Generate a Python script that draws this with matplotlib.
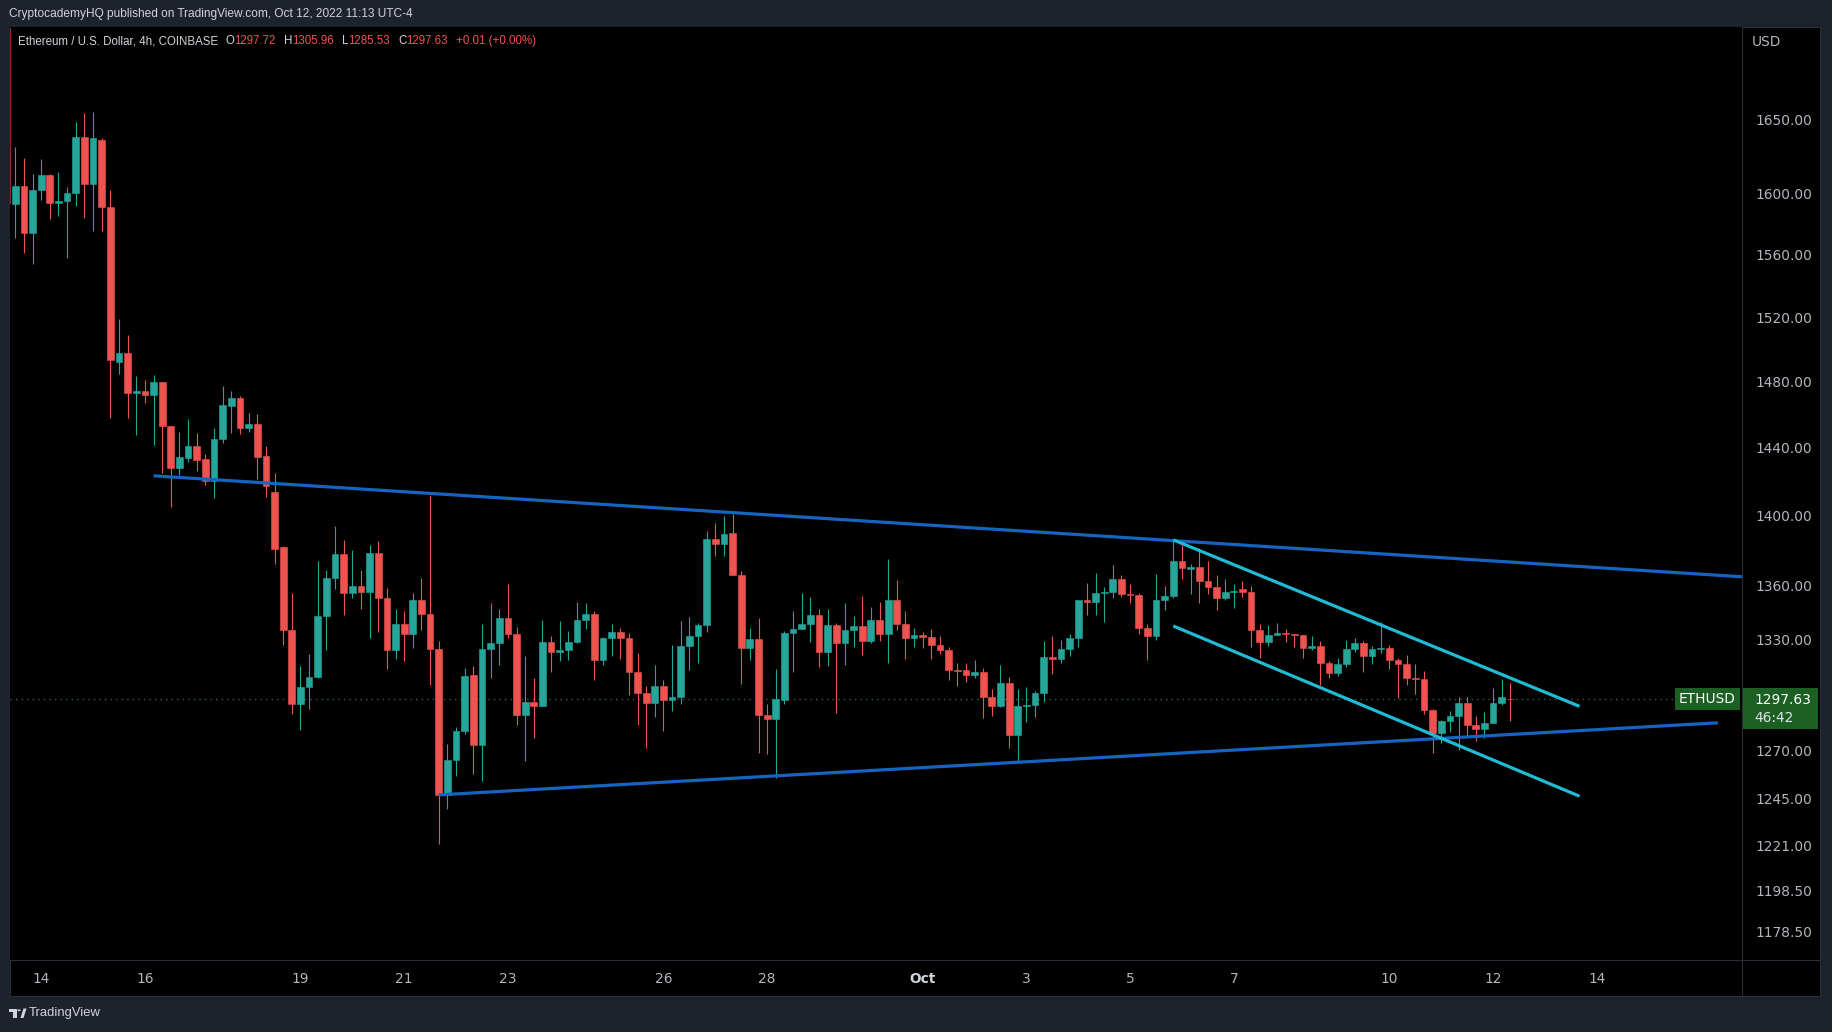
import matplotlib
matplotlib.use("Agg")
import matplotlib.pyplot as plt
import matplotlib.transforms as mtransforms
from matplotlib.patches import Rectangle, Polygon, Circle
from matplotlib.lines import Line2D
from matplotlib.ticker import FixedLocator, NullLocator, FuncFormatter
import numpy as np
import pandas as pd

# ETHUSD 4h candles (COINBASE), first bar 2022-09-13 12:00 UTC-4
first_bar = "2022-09-13 12:00"

opens = [1593, 1605, 1574, 1602, 1612, 1594, 1595, 1600, 1638, 1606,
         1636, 1591, 1492, 1497.7, 1473, 1474, 1471.5, 1480, 1453, 1428,
         1434, 1441, 1433, 1420, 1445, 1465, 1470, 1452, 1454, 1435,
         1414, 1382, 1335, 1295, 1304, 1309.6, 1343, 1364, 1378, 1356,
         1359.6, 1356.6, 1378.7, 1353, 1324, 1338.5, 1333, 1352, 1344, 1324.5,
         1247, 1265, 1280.4, 1310.6, 1273, 1324.6, 1328, 1342, 1333, 1289,
         1295.7, 1293.8, 1328.6, 1322.8, 1324, 1328.6, 1341, 1344, 1318.6, 1331,
         1334, 1330.5, 1312, 1300.7, 1295.5, 1304.8, 1297, 1298.5, 1326.5, 1332,
         1338, 1386.7, 1383.5, 1390, 1366, 1325.5, 1330, 1289, 1286.9, 1297,
         1333.6, 1336, 1338.5, 1343.5, 1323.3, 1338, 1328, 1335.3, 1337.4, 1329,
         1341, 1333, 1352, 1338.7, 1331, 1332.5, 1331.5, 1327, 1324, 1313,
         1313, 1310.4, 1312, 1298.5, 1294, 1306, 1278.4, 1294, 1294.5, 1301,
         1320.5, 1319, 1324.8, 1331, 1352, 1350.9, 1356, 1356.6, 1363.6, 1355.3,
         1354.5, 1336.5, 1331.6, 1352, 1354, 1374.2, 1369.5, 1370.3, 1362.6, 1359.4,
         1353, 1356.6, 1357.8, 1356.3, 1335.4, 1328.8, 1332.5, 1333.6, 1332.8, 1332.3,
         1325.5, 1326.5, 1316.8, 1311.8, 1316.4, 1324.8, 1328, 1321, 1324.6, 1325,
         1318.7, 1316.4, 1309, 1308.5, 1291.6, 1279.5, 1285.8, 1288.5, 1295.5, 1283.7,
         1281.5, 1284.7, 1295.2, 1297.72]
highs = [1631, 1624, 1613, 1623, 1613, 1614, 1604, 1648, 1654, 1655,
         1637, 1602, 1519, 1509, 1483.7, 1481, 1484, 1480, 1453, 1449.5,
         1457, 1449, 1436, 1452, 1477, 1474, 1471, 1461, 1460, 1441,
         1425, 1382.5, 1356, 1315.5, 1322, 1374, 1369, 1394, 1386, 1380,
         1369, 1383, 1385.6, 1358.5, 1347, 1346, 1356, 1364, 1412, 1329,
         1273.5, 1282.5, 1314.5, 1315.5, 1338.5, 1350, 1347, 1361, 1337, 1321,
         1309, 1341, 1332, 1340, 1334.5, 1350.7, 1350, 1345.7, 1331.4, 1338.5,
         1336.5, 1333.5, 1322.7, 1304.8, 1316, 1308, 1327, 1340, 1342.4, 1339,
         1391.3, 1395.9, 1400, 1401, 1368.5, 1336.4, 1342, 1295, 1313.6, 1334.7,
         1345.7, 1356, 1353.5, 1347, 1347, 1339, 1350, 1343, 1354, 1348,
         1351, 1374.8, 1363, 1346, 1336.5, 1334, 1336, 1332, 1326, 1317,
         1317, 1318.8, 1314.5, 1303, 1316, 1309.6, 1302.7, 1304, 1301.6, 1329,
         1332, 1329.6, 1332.7, 1352, 1361.3, 1366.9, 1359, 1371.4, 1365.8, 1360.7,
         1355.9, 1338.5, 1366.4, 1359.6, 1385.2, 1383.3, 1372, 1381.6, 1374, 1365.8,
         1363.6, 1360.7, 1362.5, 1360, 1338.5, 1338, 1339, 1335.8, 1333, 1332.3,
         1332, 1329, 1318, 1319.7, 1329.6, 1330.8, 1329, 1326.5, 1339.8, 1327,
         1320, 1321.5, 1316.4, 1312.5, 1292, 1286.3, 1291, 1298.5, 1298.5, 1288.5,
         1290.5, 1303.3, 1308.5, 1305.96]
lows = [1571, 1561, 1554, 1596, 1583, 1585, 1558, 1592, 1583.5, 1575,
        1575, 1458, 1484.5, 1458, 1447.6, 1467, 1441.8, 1425, 1405, 1424,
        1431.6, 1426, 1418, 1410, 1443, 1449, 1448, 1449.5, 1421.6, 1411,
        1372, 1327, 1289.5, 1281, 1292, 1309, 1324, 1358, 1343.6, 1353,
        1347, 1331, 1334, 1314, 1319, 1318, 1325, 1335, 1305, 1222,
        1239.5, 1257, 1279, 1257.6, 1254, 1309, 1316, 1330.5, 1283.7, 1264.4,
        1277, 1293.8, 1312, 1318, 1318.5, 1328, 1335.5, 1308, 1316, 1321,
        1319, 1299.6, 1283.7, 1271.6, 1288, 1280.5, 1291, 1294.6, 1313, 1317,
        1334, 1376.7, 1376.7, 1366, 1305.6, 1318.8, 1269, 1268.5, 1256, 1294.6,
        1312, 1336, 1328.8, 1315, 1315.5, 1290, 1316, 1326, 1321.5, 1328,
        1329, 1317, 1335, 1319, 1326, 1325.5, 1319.5, 1321.8, 1307.6, 1304.4,
        1306.6, 1309, 1287.4, 1288.5, 1293.2, 1271.6, 1264.4, 1285, 1288, 1296,
        1310.8, 1317, 1321, 1326, 1343.6, 1343.6, 1339.4, 1353, 1353.7, 1350.3,
        1333.2, 1318.8, 1329.4, 1346.4, 1353, 1363.6, 1355, 1350.3, 1355, 1346.4,
        1351.8, 1347.5, 1353.7, 1326, 1319.7, 1326.5, 1332.3, 1328.5, 1325.7, 1320,
        1324, 1305, 1309, 1310, 1315, 1323, 1312, 1316.3, 1322.5, 1313.6,
        1298, 1305, 1300, 1289.5, 1269, 1274.2, 1280, 1270.5, 1278, 1275,
        1276.8, 1284.6, 1294.3, 1285.53]
closes = [1605, 1574, 1602.5, 1612, 1594, 1595, 1600, 1638, 1606, 1637.5,
          1591, 1493, 1497.7, 1473, 1474, 1471.5, 1480, 1453, 1428, 1434.5,
          1441, 1432.5, 1420, 1445, 1465.6, 1470, 1452, 1454, 1434.5, 1417.5,
          1381, 1335, 1295, 1304, 1309.6, 1343, 1364, 1378, 1355.8, 1359.6,
          1356.6, 1378.7, 1353, 1324, 1338.5, 1333, 1352, 1344, 1324.5, 1247,
          1265, 1280.4, 1310, 1273, 1324.6, 1328, 1342, 1333, 1289, 1295.7,
          1293.8, 1328.6, 1322.8, 1324, 1328.6, 1341, 1344, 1318.6, 1331, 1334,
          1330.5, 1312, 1300.7, 1295.5, 1304.8, 1297, 1298.5, 1326.5, 1332, 1338,
          1386.7, 1383.5, 1389.6, 1366, 1325.5, 1330, 1289, 1286.9, 1297.3, 1333.6,
          1336, 1338.5, 1343.5, 1323.3, 1338, 1328, 1335.3, 1337.4, 1329, 1341,
          1333, 1352, 1338.7, 1331, 1332.5, 1331.5, 1327, 1324, 1313, 1312.5,
          1310.4, 1312, 1298.5, 1294, 1306, 1278.4, 1294, 1294.5, 1301, 1320.5,
          1319, 1324.8, 1331, 1352, 1350.9, 1356, 1356.6, 1363.6, 1355.3, 1354.5,
          1336.5, 1331.6, 1352, 1354, 1374.2, 1370, 1370.3, 1362.6, 1359.4, 1353,
          1356.6, 1357.2, 1356.3, 1335.4, 1328.8, 1332.5, 1333.6, 1332.8, 1332.3, 1325.5,
          1326.5, 1316.8, 1311.8, 1316.4, 1324.8, 1328, 1321, 1324.8, 1325, 1318.7,
          1316.4, 1309, 1308.5, 1291.6, 1279.5, 1285.8, 1288.5, 1295.5, 1283.7, 1281.5,
          1284.7, 1295.2, 1298.8, 1297.63]

price_ticks = [1650, 1600, 1560, 1520, 1480, 1440, 1400, 1360, 1330,
               1270, 1245, 1221, 1198.5, 1178.5]
date_ticks = ["2022-09-14", "2022-09-16", "2022-09-19", "2022-09-21", "2022-09-23",
              "2022-09-26", "2022-09-28", "2022-10-01", "2022-10-03", "2022-10-05",
              "2022-10-07", "2022-10-10", "2022-10-12", "2022-10-14"]
date_labels = ["14", "16", "19", "21", "23", "26", "28", "Oct", "3", "5", "7",
               "10", "12", "14"]

# drawn lines: (time, price) -> (time, price)
resistance = [("2022-09-16 04:00", 1423.3), ("2022-10-16 20:00", 1364.9)]
support = [("2022-09-21 16:00", 1247.0), ("2022-10-16 08:00", 1284.8)]
channel_top = [("2022-10-05 20:00", 1386.0), ("2022-10-13 16:00", 1293.6)]
channel_bottom = [("2022-10-05 20:00", 1337.4), ("2022-10-13 16:00", 1246.3)]

symbol = "ETHUSD"
countdown = "46:42"

UP = "#26a69a"
DOWN = "#ef5350"
TXT = "#b2b5be"
BG = "#1e222d"
SEP = "#2a2e39"

W, H = 1832, 1032
fig = plt.figure(figsize=(W / 100, H / 100), dpi=100, facecolor=BG)


def fx(px):
    return px / W


def fy(py):
    return 1 - py / H


start = pd.Timestamp(first_bar)


def bar_pos(t):
    return (pd.Timestamp(t) - start) / pd.Timedelta(hours=4)


# black chart panel incl. price and time scales
fig.add_artist(Rectangle((fx(10), fy(996)), fx(1820) - fx(10), fy(27) - fy(996),
                         facecolor="black", edgecolor=SEP, lw=0.8, zorder=0))

ax = fig.add_axes([fx(10), fy(960), fx(1742) - fx(10), fy(27) - fy(960)])
ax.set_facecolor("black")
for s in ax.spines.values():
    s.set_visible(False)

o = np.array(opens)
h = np.array(highs)
l = np.array(lows)
c = np.array(closes)
x = np.arange(len(o))
cols = np.where(c >= o, UP, DOWN)

ax.vlines(x, l, h, colors=cols, lw=0.8, zorder=2)
lo = np.minimum(o, c)
hi = np.maximum(o, c)
ax.bar(x, hi - lo, bottom=lo, width=0.78, color=cols, edgecolor=cols,
       linewidth=0.4, zorder=3)

for line, col in [(resistance, "#1565c0"), (support, "#1565c0"),
                  (channel_top, "#1fbcd4"), (channel_bottom, "#1fbcd4")]:
    ax.plot([bar_pos(line[0][0]), bar_pos(line[1][0])], [line[0][1], line[1][1]],
            color=col, lw=2.3, solid_capstyle="butt", zorder=4)

# last price dotted line
ax.axhline(c[-1], color="#2b6a35", lw=1, ls=(0, (1, 3)), zorder=1)

ax.set_xlim(-0.61, 199.8)
ax.set_yscale("log")
ax.set_ylim(1164.5, 1714.3)
ax.yaxis.tick_right()
ax.yaxis.set_major_locator(FixedLocator(price_ticks))
ax.yaxis.set_minor_locator(NullLocator())
ax.yaxis.set_major_formatter(FuncFormatter(lambda v, p: "%.2f" % v))
ax.tick_params(axis="y", length=0, pad=9.4, labelsize=9.9, labelcolor=TXT)

ax.set_xticks([bar_pos(d) for d in date_ticks])
ax.set_xticklabels(date_labels)
ax.xaxis.set_minor_locator(NullLocator())
ax.tick_params(axis="x", length=0, pad=8.6, labelsize=9.9, labelcolor=TXT)
for t in ax.get_xticklabels():
    if t.get_text() == "Oct":
        t.set_fontweight("bold")
        t.set_color("#d1d4dc")

# scale separators
fig.add_artist(Line2D([fx(1742), fx(1742)], [fy(27), fy(996)], color=SEP, lw=0.8))
fig.add_artist(Line2D([fx(10), fx(1820)], [fy(960), fy(960)], color=SEP, lw=0.8))
fig.add_artist(Line2D([fx(10.4), fx(10.4)], [fy(28), fy(203)], color="#8e2a2a", lw=0.8))

fig.text(fx(1752), fy(42), "USD", color=TXT, fontsize=9.9, va="center", ha="left")

# symbol label and last price label
trans = mtransforms.blended_transform_factory(ax.transAxes, ax.transData)
ax.text(1 - 6.0 / 1732, c[-1], symbol, transform=trans, ha="right", va="center",
        color="white", fontsize=9.9, zorder=6, clip_on=False,
        bbox=dict(boxstyle="square,pad=0.3", fc="#1c5f23", ec="none"))

y_last = H - ax.transData.transform((0, c[-1]))[1]
fig.add_artist(Rectangle((fx(1742.7), fy(y_last + 30)), fx(1817.7) - fx(1742.7),
                         fy(y_last - 11) - fy(y_last + 30), facecolor="#1c5f23",
                         edgecolor="none", zorder=5))
fig.text(fx(1754), fy(y_last + 0.8), "%.2f" % c[-1], color="white", fontsize=9.9,
         va="center", ha="left", zorder=6)
fig.text(fx(1754), fy(y_last + 19), countdown, color="#e0e3eb", fontsize=9.9,
         va="center", ha="left", zorder=6)

# header
fig.text(fx(9), fy(14), "CryptocademyHQ published on TradingView.com, Oct 12, 2022 11:13 UTC-4",
         color="#d1d4dc", fontsize=8.6, family="Liberation Sans", va="center", ha="left")

renderer = fig.canvas.get_renderer()
pieces = [("Ethereum / U.S. Dollar, 4h, COINBASE", "#d1d4dc", 0),
          ("O", "#d1d4dc", 8), ("%.2f" % opens[-1], DOWN, 0),
          ("H", "#d1d4dc", 8), ("%.2f" % highs[-1], DOWN, 0),
          ("L", "#d1d4dc", 8), ("%.2f" % lows[-1], DOWN, 0),
          ("C", "#d1d4dc", 8), ("%.2f" % closes[-1], DOWN, 0),
          ("+0.01 (+0.00%)", DOWN, 8)]
xpos = 17.5
for s, col, gap in pieces:
    xpos += gap
    t = fig.text(fx(xpos), fy(41), s, color=col, fontsize=8.3, family="Liberation Sans",
                 va="center", ha="left")
    xpos += t.get_window_extent(renderer).width

# footer logo + name
fig.add_artist(Polygon([(fx(9), fy(1008.5)), (fx(16.5), fy(1008.5)), (fx(16.5), fy(1018)),
                        (fx(13.3), fy(1018)), (fx(13.3), fy(1011.5)), (fx(9), fy(1011.5))],
                       closed=True, fc="#d1d4dc", ec="none"))
fig.add_artist(Circle((fx(19), fy(1010.3)), 1.6 / W, fc="#d1d4dc", ec="none"))
fig.add_artist(Polygon([(fx(20.5), fy(1018)), (fx(23.5), fy(1008.5)), (fx(26.5), fy(1008.5)),
                        (fx(23.5), fy(1018))], closed=True, fc="#d1d4dc", ec="none"))
fig.text(fx(28.5), fy(1013), "TradingView", color="#d1d4dc", fontsize=9.4,
         family="Liberation Sans", va="center", ha="left")

fig.savefig("out.png", dpi=100, facecolor=fig.get_facecolor())
